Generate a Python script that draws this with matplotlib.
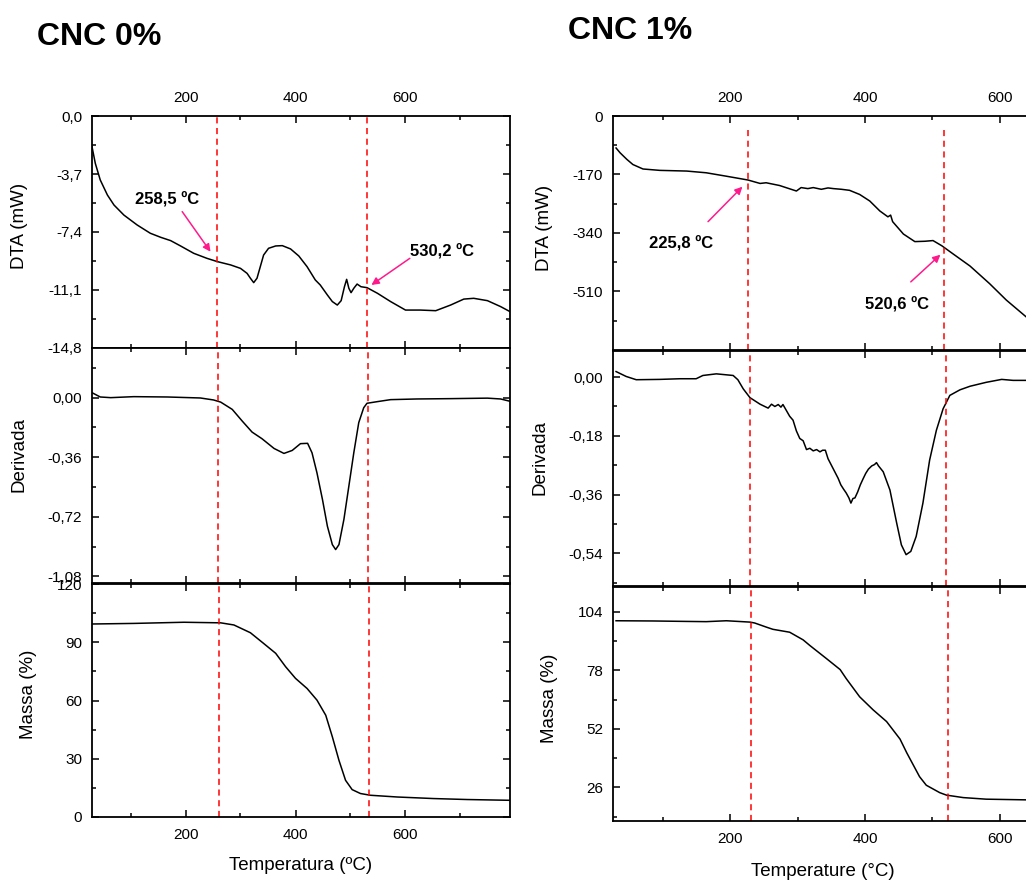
import numpy as np
import matplotlib
matplotlib.use("Agg")
import matplotlib.pyplot as plt
from matplotlib.ticker import FixedLocator, FuncFormatter

plt.rcParams["font.family"] = ["Liberation Sans", "DejaVu Sans"]

# ---- CNC 0% ----
temp_dta_0 = [30, 36, 45, 58, 70, 88, 112, 136, 155, 173, 191, 215, 239, 258, 282, 300, 312, 318, 324,
              330, 336, 342, 351, 364, 376, 391, 406, 421, 436, 445, 458, 467, 476, 483, 489, 493, 497,
              501, 506, 512, 519, 530, 549, 573, 600, 627, 655, 682, 706, 724, 749, 773, 790]
dta_0 = [-1.96, -3.02, -4.08, -5.04, -5.68, -6.32, -6.95, -7.48, -7.74, -7.95, -8.29, -8.76, -9.08,
         -9.29, -9.50, -9.72, -10.04, -10.35, -10.63, -10.35, -9.61, -8.87, -8.44, -8.29, -8.27, -8.48,
         -8.93, -9.61, -10.46, -10.78, -11.42, -11.84, -12.06, -11.78, -10.89, -10.42, -10.99, -11.27,
         -10.99, -10.72, -10.89, -10.95, -11.31, -11.84, -12.38, -12.38, -12.42, -12.06, -11.68, -11.63,
         -11.78, -12.16, -12.48]

temp_der_0 = [30, 45, 64, 106, 167, 227, 251, 264, 285, 303, 321, 339, 361, 379, 394, 409, 422, 430,
              439, 449, 458, 467, 473, 479, 488, 497, 506, 515, 524, 530, 549, 573, 621, 682, 749, 773,
              790]
der_0 = [0.030, 0.004, 0.0, 0.006, 0.004, -0.002, -0.014, -0.027, -0.071, -0.141, -0.208, -0.248,
         -0.307, -0.337, -0.319, -0.278, -0.276, -0.333, -0.454, -0.615, -0.777, -0.888, -0.918, -0.888,
         -0.736, -0.535, -0.333, -0.151, -0.061, -0.034, -0.024, -0.012, -0.008, -0.006, -0.003,
         -0.008, -0.022]

temp_mass_0 = [30, 106, 197, 264, 288, 318, 342, 364, 382, 400, 421, 439, 455, 467, 479, 491, 503, 518,
               536, 585, 651, 712, 790]
mass_0 = [99.4, 99.7, 100.3, 100.0, 98.9, 94.9, 89.4, 84.3, 77.4, 71.4, 66.2, 60.2, 52.4, 41.3, 29.2,
          18.9, 14.1, 12.1, 11.2, 10.3, 9.5, 9.0, 8.6]

# ---- CNC 1% ----
temp_dta_1 = [30, 36, 46, 55, 70, 95, 135, 164, 194, 226, 244, 253, 273, 298, 305, 315, 323, 335, 345,
              353, 365, 377, 392, 407, 422, 434, 438, 441, 457, 474, 489, 501, 514, 531, 556, 585, 610,
              639]
dta_1 = [-93, -107, -126, -141, -154, -158, -160, -165, -175, -186, -196, -194, -202, -218, -208, -211,
         -208, -213, -209, -211, -213, -216, -228, -247, -276, -293, -288, -307, -343, -365, -364, -362,
         -377, -401, -436, -487, -535, -583]

temp_der_1 = [30, 45, 60, 95, 125, 149, 159, 179, 204, 211, 219, 229, 244, 256, 261, 266, 271, 275, 278,
              283, 288, 293, 298, 303, 308, 313, 318, 323, 328, 333, 337, 341, 345, 350, 355, 360, 364,
              368, 372, 376, 379, 382, 385, 389, 393, 397, 401, 405, 410, 414, 417, 420, 427, 437, 447,
              454, 461, 468, 476, 486, 496, 506, 516, 526, 541, 556, 580, 603, 620, 639]
der_1 = [0.017, 0.002, -0.008, -0.007, -0.005, -0.005, 0.005, 0.010, 0.005, -0.008, -0.036, -0.063,
         -0.083, -0.095, -0.083, -0.090, -0.084, -0.092, -0.084, -0.102, -0.120, -0.132, -0.165, -0.188,
         -0.195, -0.222, -0.218, -0.226, -0.222, -0.229, -0.224, -0.224, -0.250, -0.270, -0.290, -0.310,
         -0.330, -0.343, -0.355, -0.370, -0.386, -0.372, -0.370, -0.352, -0.330, -0.312, -0.295, -0.282,
         -0.272, -0.268, -0.262, -0.272, -0.290, -0.346, -0.447, -0.514, -0.544, -0.534, -0.488, -0.386,
         -0.254, -0.163, -0.097, -0.056, -0.039, -0.028, -0.016, -0.007, -0.010, -0.010]

temp_mass_1 = [30, 85, 135, 164, 194, 229, 236, 254, 263, 288, 308, 318, 343, 363, 372, 392, 412, 432,
               452, 462, 481, 491, 511, 521, 546, 580, 639]
mass_1 = [100.0, 99.9, 99.7, 99.6, 100.0, 99.4, 99.0, 97.1, 96.2, 94.9, 91.5, 89.0, 83.1, 78.3, 74.3,
          66.2, 60.4, 55.2, 47.4, 41.3, 30.7, 26.9, 23.6, 22.5, 21.4, 20.7, 20.4]

# onset temperatures (dashed lines as drawn in each panel, top/mid/bottom)
onset_0 = [(257.6, 530.0), (259.4, 531.5), (261.0, 533.0)]
onset_1 = [(226.7, 517.0), (228.7, 520.8), (230.2, 523.3)]

W, H = 1026, 884
PINK = "#ff1a8c"


def px_box(x0, y0, x1, y1):
    return [x0 / W, 1 - y1 / H, (x1 - x0) / W, (y1 - y0) / H]


def comma_fmt(decimals):
    return FuncFormatter(lambda v, p: ("{:.%df}" % decimals).format(v).replace(".", ","))


def style_axis(ax, xlim, ylim, yticks, yminor, decimals, where):
    ax.set_xlim(*xlim)
    ax.set_ylim(*ylim)
    ax.xaxis.set_major_locator(FixedLocator([200, 400, 600]))
    ax.xaxis.set_minor_locator(FixedLocator([100, 300, 500, 700]))
    ax.yaxis.set_major_locator(FixedLocator(yticks))
    ax.yaxis.set_minor_locator(FixedLocator(yminor))
    ax.yaxis.set_major_formatter(comma_fmt(decimals))
    ax.tick_params(which="both", direction="in", top=True, right=True, width=1.1,
                   labeltop=(where == "top"), labelbottom=(where == "bottom"), labelsize=11)
    ax.tick_params(which="major", length=5)
    ax.tick_params(which="minor", length=3)
    ax.tick_params(axis="y", pad=7)
    ax.tick_params(axis="x", pad=8)
    for s in ax.spines.values():
        s.set_linewidth(1.3)


def arrow_label(ax, text, text_xy, tail, tip):
    ax.annotate("", xy=tip, xytext=tail,
                arrowprops=dict(arrowstyle="-|>", color=PINK, lw=1.1, mutation_scale=11,
                                shrinkA=0, shrinkB=0))
    ax.text(text_xy[0], text_xy[1], text, fontsize=12, fontweight="bold", ha="left", va="baseline")


fig = plt.figure(figsize=(W / 100, H / 100), dpi=100)

# ---------- left column (CNC 0%) ----------
a1 = fig.add_axes(px_box(92, 116, 510, 348))
a2 = fig.add_axes(px_box(92, 348, 510, 583))
a3 = fig.add_axes(px_box(92, 584, 510, 817))
xl0 = (30, 790)

a1.plot(temp_dta_0, dta_0, color="black", lw=1.1)
style_axis(a1, xl0, (-14.8, 0), [-14.8, -11.1, -7.4, -3.7, 0.0],
           [-12.95, -9.25, -5.55, -1.85], 1, "top")
a2.plot(temp_der_0, der_0, color="black", lw=1.1)
style_axis(a2, xl0, (-1.12, 0.30), [-1.08, -0.72, -0.36, 0.0],
           [-0.90, -0.54, -0.18, 0.18], 2, "none")
a3.plot(temp_mass_0, mass_0, color="black", lw=1.1)
style_axis(a3, xl0, (0, 120), [0, 30, 60, 90, 120], [15, 45, 75, 105], 0, "bottom")

for ax, (t1, t2) in zip([a1, a2, a3], onset_0):
    for t in (t1, t2):
        ax.axvline(t, color="red", lw=1.1, ls=(0, (4, 3)))

arrow_label(a1, "258,5 ºC", (109, -5.57), (194, -6.10), (245.5, -8.66))
arrow_label(a1, "530,2 ºC", (608, -8.87), (607.8, -9.08), (538, -10.78))

a1.set_ylabel("DTA (mW)", fontsize=13.5, va="center")
a1.yaxis.set_label_coords(-0.173, 0.526)
a2.set_ylabel("Derivada", fontsize=13.5, va="center")
a2.yaxis.set_label_coords(-0.175, 0.545)
a3.set_ylabel("Massa (%)", fontsize=13.5, va="center")
a3.yaxis.set_label_coords(-0.151, 0.528)
a3.set_xlabel("Temperatura (ºC)", fontsize=13.5, va="center")
a3.xaxis.set_label_coords(0.498, -0.21)

# ---------- right column (CNC 1%) ----------
b1 = fig.add_axes(px_box(612.7, 116, 1040, 350))
b2 = fig.add_axes(px_box(612.7, 351, 1040, 586))
b3 = fig.add_axes(px_box(612.7, 587, 1040, 821))
xl1 = (25, 660)

b1.plot(temp_dta_1, dta_1, color="black", lw=1.1)
style_axis(b1, xl1, (-680, 0), [-510, -340, -170, 0], [-595, -425, -255, -85], 0, "top")
b2.plot(temp_der_1, der_1, color="black", lw=1.1)
style_axis(b2, xl1, (-0.64, 0.08), [-0.54, -0.36, -0.18, 0.0],
           [-0.63, -0.45, -0.27, -0.09], 2, "none")
b3.plot(temp_mass_1, mass_1, color="black", lw=1.1)
style_axis(b3, xl1, (11, 115), [26, 52, 78, 104], [13, 39, 65, 91], 0, "bottom")

for i, (ax, (t1, t2)) in enumerate(zip([b1, b2, b3], onset_1)):
    top = 0.949 if i == 0 else 1.0
    for t in (t1, t2):
        ax.axvline(t, ymax=top, color="red", lw=1.1, ls=(0, (4, 3)))

arrow_label(b1, "225,8 ºC", (79, -381), (166.7, -307), (217.8, -205.4))
arrow_label(b1, "520,6 ºC", (399.6, -559), (468, -482), (512, -403))

b1.set_ylabel("DTA (mW)", fontsize=13.5, va="center")
b1.yaxis.set_label_coords(-0.160, 0.521)
b2.set_ylabel("Derivada", fontsize=13.5, va="center")
b2.yaxis.set_label_coords(-0.171, 0.547)
b3.set_ylabel("Massa (%)", fontsize=13.5, va="center")
b3.yaxis.set_label_coords(-0.149, 0.526)
b3.set_xlabel("Temperature (°C)", fontsize=13.5, va="center")
b3.xaxis.set_label_coords(0.491, -0.214)

fig.text(37 / W, 1 - 45 / H, "CNC 0%", fontsize=23, fontweight="bold", ha="left", va="baseline")
fig.text(568 / W, 1 - 39.3 / H, "CNC 1%", fontsize=23, fontweight="bold", ha="left", va="baseline")

fig.savefig("out.png", dpi=100)
